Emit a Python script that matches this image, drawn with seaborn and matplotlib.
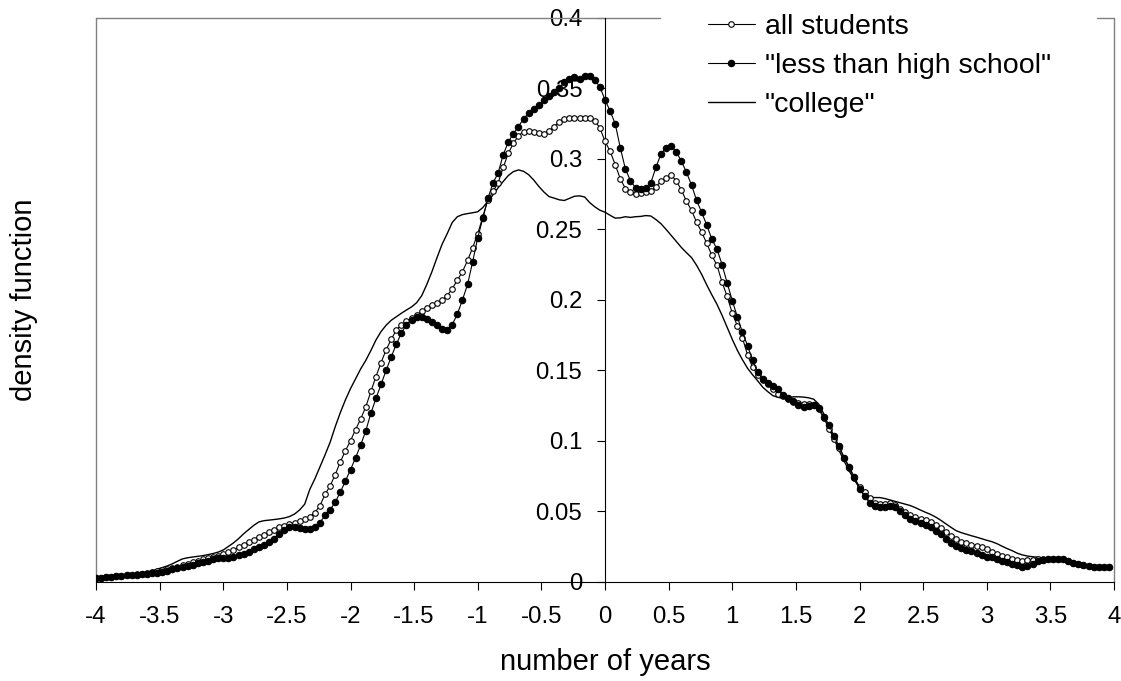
import numpy as np
import pandas as pd
import matplotlib
matplotlib.use("Agg")
import matplotlib.pyplot as plt
from matplotlib.lines import Line2D
from matplotlib.ticker import FuncFormatter, MultipleLocator
import seaborn as sns

# ---------------- data ----------------
x_years = np.round(np.arange(200) * 0.04 - 4.0, 2)   # grid -4.00 ... 3.96

all_students = [
    0.0024, 0.0027, 0.0030, 0.0034, 0.0038, 0.0042, 0.0046, 0.0050, 0.0054, 0.0058,
    0.0062, 0.0067, 0.0073, 0.0080, 0.0088, 0.0097, 0.0107, 0.0117, 0.0127, 0.0138,
    0.0150, 0.0160, 0.0168, 0.0176, 0.0184, 0.0195, 0.0210, 0.0226, 0.0243, 0.0262,
    0.0280, 0.0298, 0.0316, 0.0334, 0.0352, 0.0370, 0.0385, 0.0397, 0.0407, 0.0417,
    0.0428, 0.0443, 0.0460, 0.0490, 0.0540, 0.0620, 0.0680, 0.0760, 0.0850, 0.0930,
    0.1000, 0.1080, 0.1155, 0.1240, 0.1350, 0.1455, 0.1555, 0.1645, 0.1720, 0.1785,
    0.1825, 0.1850, 0.1868, 0.1890, 0.1918, 0.1945, 0.1962, 0.1975, 0.1998, 0.2030,
    0.2080, 0.2140, 0.2200, 0.2280, 0.2370, 0.2470, 0.2590, 0.2710, 0.2770, 0.2830,
    0.2940, 0.3040, 0.3110, 0.3165, 0.3194, 0.3196, 0.3194, 0.3182, 0.3180, 0.3200,
    0.3228, 0.3265, 0.3285, 0.3291, 0.3292, 0.3292, 0.3291, 0.3288, 0.3270, 0.3220,
    0.3125, 0.3055, 0.2960, 0.2860, 0.2790, 0.2765, 0.2752, 0.2755, 0.2765, 0.2775,
    0.2800, 0.2843, 0.2862, 0.2884, 0.2845, 0.2780, 0.2700, 0.2635, 0.2550, 0.2480,
    0.2400, 0.2315, 0.2245, 0.2125, 0.2025, 0.1905, 0.1815, 0.1730, 0.1610, 0.1520,
    0.1470, 0.1430, 0.1400, 0.1370, 0.1335, 0.1315, 0.1295, 0.1278, 0.1268, 0.1264,
    0.1262, 0.1257, 0.1222, 0.1160, 0.1085, 0.1010, 0.0950, 0.0880, 0.0805, 0.0735,
    0.0675, 0.0635, 0.0595, 0.0560, 0.0552, 0.0550, 0.0555, 0.0545, 0.0515, 0.0495,
    0.0475, 0.0457, 0.0448, 0.0438, 0.0422, 0.0405, 0.0380, 0.0355, 0.0325, 0.0302,
    0.0284, 0.0272, 0.0262, 0.0252, 0.0244, 0.0232, 0.0213, 0.0197, 0.0185, 0.0174,
    0.0162, 0.0152, 0.0149, 0.0151, 0.0156, 0.0159, 0.0160, 0.0160, 0.0159, 0.0159,
    0.0158, 0.0148, 0.0135, 0.0124, 0.0117, 0.0110, 0.0105, 0.0102, 0.0101, 0.0101,
]

less_than_high_school = [
    0.0024, 0.0027, 0.0030, 0.0033, 0.0037, 0.0041, 0.0045, 0.0048, 0.0051, 0.0054,
    0.0057, 0.0060, 0.0064, 0.0070, 0.0079, 0.0087, 0.0096, 0.0105, 0.0113, 0.0122,
    0.0131, 0.0141, 0.0149, 0.0158, 0.0165, 0.0168, 0.0171, 0.0177, 0.0187, 0.0199,
    0.0213, 0.0229, 0.0245, 0.0263, 0.0282, 0.0305, 0.0336, 0.0365, 0.0388, 0.0388,
    0.0380, 0.0374, 0.0373, 0.0385, 0.0420, 0.0470, 0.0510, 0.0565, 0.0635, 0.0715,
    0.0795, 0.0880, 0.0970, 0.1070, 0.1195, 0.1300, 0.1400, 0.1500, 0.1595, 0.1685,
    0.1765, 0.1825, 0.1860, 0.1880, 0.1880, 0.1865, 0.1845, 0.1820, 0.1795, 0.1785,
    0.1825, 0.1900, 0.2000, 0.2110, 0.2270, 0.2440, 0.2580, 0.2720, 0.2830, 0.2900,
    0.3030, 0.3120, 0.3180, 0.3230, 0.3285, 0.3325, 0.3355, 0.3385, 0.3415, 0.3450,
    0.3475, 0.3500, 0.3545, 0.3570, 0.3578, 0.3570, 0.3585, 0.3590, 0.3560, 0.3510,
    0.3420, 0.3340, 0.3250, 0.3080, 0.2930, 0.2845, 0.2795, 0.2790, 0.2795, 0.2830,
    0.2940, 0.3035, 0.3080, 0.3095, 0.3050, 0.2985, 0.2905, 0.2815, 0.2705, 0.2620,
    0.2530, 0.2430, 0.2360, 0.2250, 0.2120, 0.1995, 0.1880, 0.1770, 0.1675, 0.1570,
    0.1485, 0.1435, 0.1410, 0.1392, 0.1365, 0.1328, 0.1302, 0.1280, 0.1255, 0.1242,
    0.1245, 0.1255, 0.1235, 0.1170, 0.1110, 0.1035, 0.0960, 0.0880, 0.0815, 0.0740,
    0.0660, 0.0605, 0.0560, 0.0540, 0.0532, 0.0533, 0.0537, 0.0528, 0.0505, 0.0472,
    0.0445, 0.0430, 0.0417, 0.0405, 0.0385, 0.0360, 0.0336, 0.0306, 0.0276, 0.0256,
    0.0239, 0.0226, 0.0215, 0.0202, 0.0190, 0.0178, 0.0173, 0.0160, 0.0150, 0.0140,
    0.0129, 0.0117, 0.0106, 0.0111, 0.0128, 0.0144, 0.0155, 0.0159, 0.0159, 0.0159,
    0.0158, 0.0147, 0.0134, 0.0123, 0.0116, 0.0109, 0.0104, 0.0101, 0.0101, 0.0101,
]

college = [
    0.0024, 0.0027, 0.0030, 0.0033, 0.0036, 0.0039, 0.0042, 0.0046, 0.0052, 0.0059,
    0.0067, 0.0077, 0.0089, 0.0100, 0.0112, 0.0127, 0.0145, 0.0162, 0.0170, 0.0175,
    0.0180, 0.0185, 0.0192, 0.0200, 0.0210, 0.0225, 0.0250, 0.0275, 0.0305, 0.0340,
    0.0370, 0.0400, 0.0424, 0.0433, 0.0437, 0.0441, 0.0446, 0.0452, 0.0462, 0.0480,
    0.0509, 0.0550, 0.0655, 0.0730, 0.0815, 0.0900, 0.0990, 0.1100, 0.1200, 0.1290,
    0.1370, 0.1440, 0.1510, 0.1570, 0.1640, 0.1715, 0.1775, 0.1820, 0.1855, 0.1880,
    0.1905, 0.1928, 0.1950, 0.1980, 0.2030, 0.2110, 0.2200, 0.2300, 0.2395, 0.2470,
    0.2550, 0.2590, 0.2605, 0.2612, 0.2618, 0.2625, 0.2655, 0.2700, 0.2745, 0.2795,
    0.2840, 0.2882, 0.2910, 0.2922, 0.2912, 0.2888, 0.2850, 0.2805, 0.2765, 0.2733,
    0.2722, 0.2710, 0.2705, 0.2720, 0.2735, 0.2738, 0.2730, 0.2690, 0.2660, 0.2636,
    0.2622, 0.2600, 0.2580, 0.2582, 0.2590, 0.2585, 0.2590, 0.2592, 0.2598, 0.2595,
    0.2570, 0.2540, 0.2500, 0.2458, 0.2415, 0.2372, 0.2335, 0.2300, 0.2245, 0.2180,
    0.2105, 0.2035, 0.1968, 0.1890, 0.1805, 0.1720, 0.1642, 0.1575, 0.1515, 0.1468,
    0.1425, 0.1380, 0.1348, 0.1320, 0.1308, 0.1302, 0.1305, 0.1312, 0.1312, 0.1310,
    0.1305, 0.1295, 0.1260, 0.1190, 0.1095, 0.1015, 0.0930, 0.0855, 0.0785, 0.0722,
    0.0665, 0.0620, 0.0598, 0.0597, 0.0597, 0.0590, 0.0580, 0.0570, 0.0560, 0.0550,
    0.0540, 0.0525, 0.0508, 0.0492, 0.0477, 0.0458, 0.0435, 0.0410, 0.0385, 0.0362,
    0.0348, 0.0337, 0.0326, 0.0316, 0.0305, 0.0294, 0.0284, 0.0270, 0.0252, 0.0235,
    0.0220, 0.0202, 0.0190, 0.0182, 0.0177, 0.0174, 0.0170, 0.0168, 0.0164, 0.0161,
    0.0158, 0.0150, 0.0137, 0.0125, 0.0117, 0.0110, 0.0105, 0.0101, 0.0100, 0.0100,
]

series_labels = ['all students', '"less than high school"', '"college"']
x_label = "number of years"
y_label = "density function"

# ---------------- style ----------------
sns.set_style("white")
plt.rcParams["font.family"] = ["Liberation Sans", "DejaVu Sans"]
plt.rcParams["axes.unicode_minus"] = False
for key in ["text.color", "axes.labelcolor", "xtick.color", "ytick.color"]:
    plt.rcParams[key] = "black"

W, H = 1121, 681
fig = plt.figure(figsize=(W / 100, H / 100), dpi=100)
ax_l, ax_r, ax_t, ax_b = 96, 1114, 18, 581.7
ax = fig.add_axes([ax_l / W, (H - ax_b) / H, (ax_r - ax_l) / W, (ax_b - ax_t) / H])

df = pd.DataFrame({"x": x_years, "all": all_students,
                   "lths": less_than_high_school, "college": college})

sns.lineplot(data=df, x="x", y="all", ax=ax, color="black", linewidth=0.8,
             marker="o", markersize=4.0, markerfacecolor="white",
             markeredgecolor="black", markeredgewidth=0.8, errorbar=None,
             label=series_labels[0], zorder=3)
sns.lineplot(data=df, x="x", y="lths", ax=ax, color="black", linewidth=0.8,
             marker="o", markersize=4.6, markerfacecolor="black",
             markeredgecolor="black", markeredgewidth=0.8, errorbar=None,
             label=series_labels[1], zorder=4)
sns.lineplot(data=df, x="x", y="college", ax=ax, color="black", linewidth=1.0,
             errorbar=None, label=series_labels[2], zorder=2)

ax.set_xlim(-4, 4)
ax.set_ylim(0, 0.4)

# axes crossing at zero
ax.spines["left"].set_position(("data", 0))
ax.spines["left"].set_color("black")
ax.spines["left"].set_linewidth(0.8)
ax.spines["bottom"].set_color("black")
ax.spines["bottom"].set_linewidth(0.8)
ax.spines["top"].set_visible(False)
ax.spines["right"].set_visible(False)

ax.xaxis.set_major_locator(MultipleLocator(0.5))
ax.yaxis.set_major_locator(MultipleLocator(0.05))
fmt = FuncFormatter(lambda v, p: "%g" % round(v, 3))
ax.xaxis.set_major_formatter(fmt)
ax.yaxis.set_major_formatter(fmt)
ax.tick_params(axis="x", direction="out", length=5.8, width=0.8, pad=12,
               labelsize=17.3, colors="black", bottom=True)
ax.tick_params(axis="y", direction="out", length=5.8, width=0.8, pad=10.5,
               labelsize=17.3, colors="black", left=True)

# gray plot-area frame (partly hidden by the legend)
gray = "#808080"
xa = (660 - ax_l) / (ax_r - ax_l)
xb = (1097 - ax_l) / (ax_r - ax_l)
for xs, ys in [([0, 0], [0, 1]), ([1, 1], [0, 1]), ([0, xa], [1, 1]), ([xb, 1], [1, 1])]:
    ax.add_line(Line2D(xs, ys, transform=ax.transAxes, color=gray, lw=1.0,
                       clip_on=False, zorder=1))

ax.set_xlabel(x_label, fontsize=21, color="black")
ax.set_ylabel(y_label, fontsize=21, color="black")
ax.xaxis.set_label_coords(0.5, -0.117)
ax.yaxis.set_label_coords((38 - ax_l) / (ax_r - ax_l), 0.5)

handles, labels = ax.get_legend_handles_labels()
leg = ax.legend(handles, labels, loc="upper left",
                bbox_to_anchor=(708 / W, 1 - 14 / H), bbox_transform=fig.transFigure,
                frameon=False, fontsize=20.5, handlelength=1.65, handletextpad=0.35,
                labelspacing=0.46, borderpad=0, borderaxespad=0, numpoints=1)
for t in leg.get_texts():
    t.set_color("black")

fig.savefig("out.png", dpi=100)
